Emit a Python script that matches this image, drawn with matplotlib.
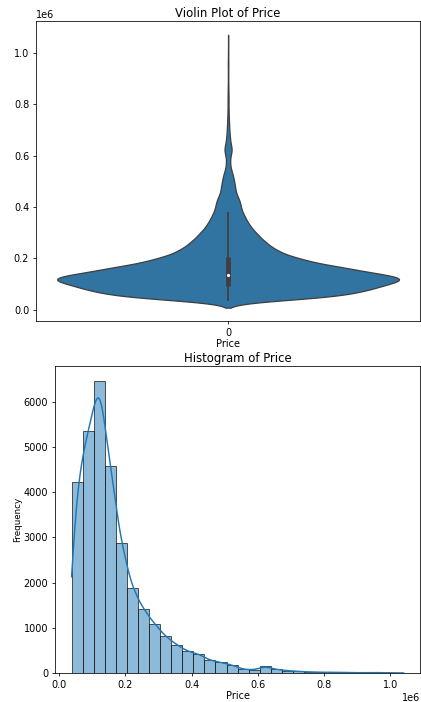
import math
import numpy as np
import matplotlib
matplotlib.use("Agg")
import matplotlib.pyplot as plt

# price data (30 equal bins between min and max)
price_min = 38000
price_max = 1040000
price_counts = [4230, 5360, 6470, 4590, 2870, 1886, 1415, 1090, 810, 626,
                479, 420, 280, 236, 177, 81, 70, 145, 78, 52,
                35, 24, 16, 18, 12, 8, 6, 10, 4, 3]
bw = 15000  # kde bandwidth

erf = np.vectorize(math.erf)


def smooth_counts(x, edges, counts, h):
    """gaussian kde of the binned counts (uniform inside each bin), per unit of x"""
    out = np.zeros_like(x, dtype=float)
    s = h * np.sqrt(2)
    for a, b, c in zip(edges[:-1], edges[1:], counts):
        out += c * (erf((x - a) / s) - erf((x - b) / s)) / 2 / (b - a)
    return out


edges = np.linspace(price_min, price_max, len(price_counts) + 1)
binw = edges[1] - edges[0]
cum = np.concatenate([[0], np.cumsum(price_counts)])
n = cum[-1]
q1, med, q3 = np.interp([0.25 * n, 0.5 * n, 0.75 * n], cum, edges)
iqr = q3 - q1
wlo = max(price_min, q1 - 1.5 * iqr)
whi = min(price_max, q3 + 1.5 * iqr)

plt.rcParams['axes.titlepad'] = 4
plt.rcParams['axes.labelpad'] = 1

fig = plt.figure(figsize=(421 / 70, 702 / 70), dpi=70)

# violin
ax1 = fig.add_axes([0.0855, 0.5423, 0.9125, 0.4277])
yy = np.linspace(price_min - 2 * bw, price_max + 2 * bw, 400)
dens = smooth_counts(yy, edges, price_counts, bw)
hw = dens / dens.max() * 0.445
ax1.fill_betweenx(yy, -hw, hw, facecolor='#3274a1', edgecolor='#3f3f3f', lw=1.3, zorder=1)
ax1.plot([0, 0], [wlo, whi], color='#3f3f3f', lw=1.8, zorder=2)
ax1.plot([0, 0], [q1, q3], color='#3f3f3f', lw=5, solid_capstyle='butt', zorder=2)
ax1.scatter([0], [med], s=5, color='white', zorder=3)
ax1.set_xlim(-0.5, 0.5)
ax1.set_xticks([0])
ax1.set_xticklabels(['0'])
ax1.set_xlabel('Price')
ax1.set_title('Violin Plot of Price')

# histogram + kde
ax2 = fig.add_axes([0.1306, 0.0413, 0.8674, 0.4373])
ax2.hist(edges[:-1], bins=edges, weights=price_counts,
         facecolor=(0.122, 0.467, 0.706, 0.5), edgecolor=(0.1, 0.1, 0.1, 0.75), lw=1)
xx = np.linspace(price_min, price_max, 200)
ax2.plot(xx, smooth_counts(xx, edges, price_counts, bw) * binw, color='#1f77b4', lw=1.5)
ax2.set_title('Histogram of Price')
ax2.set_xlabel('Price')
ax2.set_ylabel('Frequency', fontsize=9)

fig.savefig('out.png', dpi=70)
